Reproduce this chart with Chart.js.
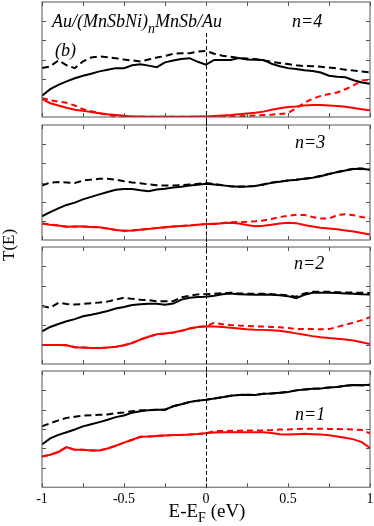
<!DOCTYPE html>
<html lang="en">
<head>
<meta charset="UTF-8">
<title>T(E) Au/(MnSbNi)nMnSb/Au</title>
<script src="https://cdn.jsdelivr.net/npm/chart.js"></script>
<style>
    body { margin: 0; background: #fff; }
    #wrap { position: relative; width: 374px; height: 526px; font-family: "Liberation Serif", serif; color: #000; }
    canvas { position: absolute; left: 0; }
    .lbl { position: absolute; white-space: nowrap; line-height: 18px; font-size: 18px; font-style: italic; }
    .lbl sub { font-size: 14px; vertical-align: -6px; line-height: 0; }
    #ytitle { position: absolute; left: 9px; top: 245px; font-size: 17px; transform: translate(-50%, -50%) rotate(-90deg); white-space: nowrap; }
    #xtitle { position: absolute; left: 207px; top: 501px; font-size: 19px; line-height: 19px; transform: translateX(-50%); white-space: nowrap; }
    #xtitle sub { font-size: 14px; vertical-align: -5px; line-height: 0; }
</style>
</head>
<body>
<div id="wrap">
    <canvas id="p1" width="374" height="121" style="top:0px"></canvas>
    <canvas id="p2" width="374" height="122" style="top:121px"></canvas>
    <canvas id="p3" width="374" height="124" style="top:243px"></canvas>
    <canvas id="p4" width="374" height="159" style="top:367px"></canvas>

    <div class="lbl" style="left:52px; top:12px;">Au/(MnSbNi)<sub>n</sub>MnSb/Au</div>
    <div class="lbl" style="left:55px; top:41px;">(b)</div>
    <div class="lbl" style="left:292px; top:12px;">n=4</div>
    <div class="lbl" style="left:295px; top:133px;">n=3</div>
    <div class="lbl" style="left:294px; top:254px;">n=2</div>
    <div class="lbl" style="left:295px; top:405px;">n=1</div>
    <div id="ytitle">T(E)</div>
    <div id="xtitle">E-E<sub>F</sub> (eV)</div>
</div>

<script>
// energy grid (eV)
const energy = [-1, -0.95, -0.9, -0.85, -0.8, -0.75, -0.7, -0.65, -0.6, -0.55, -0.5,
    -0.45, -0.4, -0.35, -0.3, -0.25, -0.2, -0.15, -0.1, -0.05, 0,
    0.05, 0.1, 0.15, 0.2, 0.25, 0.3, 0.35, 0.4, 0.45, 0.5,
    0.55, 0.6, 0.65, 0.7, 0.75, 0.8, 0.85, 0.9, 0.95, 1];
const xTicks = [-1, -0.75, -0.5, -0.25, 0, 0.25, 0.5, 0.75, 1];
const yTicks = [1, 2, 3, 4, 5];

// n=4
const n4BlackSolid = [1.11, 1.45, 1.68, 1.86, 2.02, 2.15, 2.26, 2.38, 2.47, 2.55, 2.55,
    2.7, 2.75, 2.68, 2.6, 2.85, 2.95, 3.03, 3.07, 2.88, 2.73,
    2.98, 2.98, 2.98, 3.08, 3.0, 2.99, 2.98, 2.78, 2.65, 2.55,
    2.5, 2.44, 2.4, 2.32, 2.15, 2.1, 2.07, 1.92, 1.8, 1.74];
const n4BlackDashed = [2.55, 2.64, 2.95, 2.7, 2.55, 2.9, 3.1, 3.16, 3.12, 3.07, 3.0,
    2.95, 2.9, 3.0, 3.1, 3.18, 3.3, 3.32, 3.33, 3.42, 3.45,
    3.3, 3.2, 3.14, 3.08, 3.05, 3.02, 2.95, 2.88, 2.82, 2.76,
    2.7, 2.66, 2.65, 2.62, 2.58, 2.53, 2.47, 2.42, 2.38, 2.33];
const n4RedSolid = [0.94, 0.72, 0.6, 0.48, 0.38, 0.32, 0.26, 0.2, 0.14, 0.1, 0.06,
    0.03, 0.02, 0.01, 0.01, 0.01, 0.01, 0.01, 0.01, 0.02, 0.03,
    0.05, 0.08, 0.1, 0.14, 0.18, 0.22, 0.28, 0.38, 0.46, 0.52,
    0.55, 0.6, 0.62, 0.62, 0.6, 0.58, 0.53, 0.47, 0.41, 0.35];
const n4RedDashed = [0.99, 0.88, 0.8, 0.74, 0.6, 0.4, 0.3, 0.2, 0.1, 0.04, 0.02,
    0.01, 0.01, 0.01, 0.01, 0.01, 0.01, 0.01, 0.01, 0.01, 0.01,
    0.02, 0.02, 0.03, 0.04, 0.06, 0.08, 0.1, 0.12, 0.16, 0.2,
    0.45, 0.75, 0.95, 1.1, 1.2, 1.28, 1.45, 1.65, 1.9, 1.94];

// n=3
const n3BlackSolid = [1.24, 1.45, 1.65, 1.83, 1.95, 2.12, 2.25, 2.38, 2.5, 2.62, 2.66,
    2.66, 2.6, 2.55, 2.64, 2.68, 2.74, 2.78, 2.84, 2.88, 2.93,
    2.9, 2.85, 2.8, 2.78, 2.79, 2.82, 2.9, 2.98, 3.04, 3.1,
    3.14, 3.2, 3.25, 3.33, 3.44, 3.54, 3.63, 3.7, 3.72, 3.66];
const n3BlackDashed = [2.84, 3.0, 3.02, 3.0, 2.97, 3.1, 3.15, 3.19, 3.2, 3.15, 3.06,
    3.0, 2.96, 2.9, 2.86, 2.84, 2.84, 2.86, 2.9, 2.93, 2.97,
    2.92, 2.86, 2.8, 2.79, 2.8, 2.82, 2.9, 3.0, 3.05, 3.1,
    3.14, 3.2, 3.25, 3.35, 3.45, 3.55, 3.64, 3.72, 3.73, 3.66];
const n3RedSolid = [0.86, 0.8, 0.76, 0.69, 0.7, 0.7, 0.68, 0.66, 0.6, 0.52, 0.48,
    0.5, 0.54, 0.58, 0.62, 0.66, 0.7, 0.73, 0.76, 0.8, 0.83,
    0.84, 0.88, 0.9, 0.86, 0.78, 0.72, 0.74, 0.8, 0.86, 0.9,
    0.88, 0.78, 0.7, 0.64, 0.6, 0.56, 0.5, 0.44, 0.37, 0.29];
const n3RedDashed = [0.86, 0.8, 0.76, 0.69, 0.7, 0.7, 0.68, 0.66, 0.6, 0.52, 0.48,
    0.5, 0.54, 0.58, 0.62, 0.66, 0.7, 0.73, 0.76, 0.8, 0.83,
    0.85, 0.89, 0.92, 0.94, 0.95, 0.98, 1.02, 1.1, 1.2, 1.26,
    1.32, 1.3, 1.2, 1.12, 1.12, 1.3, 1.34, 1.29, 1.2, 1.12];

// n=2
const n2BlackSolid = [1.67, 1.9, 2.05, 2.19, 2.3, 2.45, 2.53, 2.62, 2.72, 2.85, 2.92,
    3.02, 3.06, 3.09, 3.09, 3.04, 3.1, 3.3, 3.4, 3.43, 3.45,
    3.5, 3.58, 3.62, 3.58, 3.56, 3.55, 3.56, 3.55, 3.52, 3.48,
    3.38, 3.55, 3.65, 3.66, 3.66, 3.64, 3.62, 3.6, 3.58, 3.57];
const n2BlackDashed = [2.97, 2.88, 3.14, 3.08, 3.05, 3.08, 3.12, 3.15, 3.2, 3.3, 3.4,
    3.34, 3.3, 3.27, 3.22, 3.22, 3.22, 3.42, 3.5, 3.57, 3.58,
    3.6, 3.63, 3.66, 3.62, 3.6, 3.6, 3.6, 3.58, 3.55, 3.52,
    3.45, 3.62, 3.7, 3.71, 3.7, 3.68, 3.67, 3.66, 3.66, 3.64];
const n2RedSolid = [0.98, 0.98, 0.98, 0.96, 0.86, 0.84, 0.82, 0.82, 0.84, 0.88, 0.96,
    1.08, 1.25, 1.4, 1.52, 1.56, 1.62, 1.7, 1.82, 1.9, 1.93,
    1.92, 1.9, 1.86, 1.82, 1.78, 1.76, 1.75, 1.73, 1.7, 1.64,
    1.57, 1.5, 1.43, 1.37, 1.33, 1.3, 1.26, 1.2, 1.12, 1.03];
const n2RedDashed = [0.98, 0.98, 0.98, 0.96, 0.86, 0.84, 0.82, 0.82, 0.84, 0.88, 0.96,
    1.08, 1.25, 1.4, 1.52, 1.56, 1.62, 1.7, 1.82, 1.9, 1.93,
    2.12, 2.04, 2.0, 1.97, 1.95, 1.93, 1.92, 1.9, 1.88, 1.85,
    1.8, 1.79, 1.79, 1.78, 1.79, 1.9, 2.02, 2.12, 2.25, 2.4];

// n=1
const n1BlackSolid = [2.21, 2.52, 2.7, 2.84, 2.98, 3.14, 3.25, 3.36, 3.48, 3.62, 3.7,
    3.85, 3.92, 3.98, 4.0, 4.0, 4.18, 4.28, 4.4, 4.47, 4.52,
    4.58, 4.65, 4.72, 4.76, 4.78, 4.76, 4.82, 4.84, 4.88, 4.92,
    5.0, 5.04, 5.08, 5.1, 5.15, 5.18, 5.24, 5.28, 5.26, 5.29];
const n1BlackDashed = [3.14, 3.3, 3.45, 3.58, 3.64, 3.7, 3.72, 3.74, 3.76, 3.82, 3.86,
    3.92, 3.97, 3.98, 4.0, 4.0, 4.18, 4.28, 4.4, 4.47, 4.52,
    4.58, 4.65, 4.72, 4.76, 4.78, 4.76, 4.82, 4.84, 4.88, 4.92,
    5.0, 5.04, 5.08, 5.1, 5.15, 5.18, 5.24, 5.28, 5.26, 5.29];
const n1RedSolid = [1.59, 1.68, 1.82, 2.07, 1.93, 1.93, 1.9, 1.9, 2.0, 2.14, 2.3,
    2.45, 2.6, 2.62, 2.65, 2.67, 2.69, 2.7, 2.72, 2.75, 2.79,
    2.82, 2.84, 2.84, 2.84, 2.84, 2.84, 2.84, 2.8, 2.74, 2.72,
    2.74, 2.76, 2.74, 2.72, 2.68, 2.62, 2.55, 2.47, 2.33, 2.03];
const n1RedDashed = [1.59, 1.68, 1.82, 2.07, 1.93, 1.93, 1.9, 1.9, 2.0, 2.14, 2.3,
    2.45, 2.6, 2.62, 2.65, 2.67, 2.69, 2.7, 2.72, 2.75, 2.79,
    2.9, 2.9, 2.91, 2.92, 2.93, 2.92, 2.93, 2.95, 2.98, 2.98,
    3.0, 3.02, 3.02, 3.02, 3.01, 3.0, 2.99, 2.98, 2.95, 2.78];

function pts(arr) {
    return energy.map((e, i) => ({ x: e, y: arr[i] }));
}

// frame, inward ticks and the dashed E=E_F line
const framePlugin = {
    id: 'frame',
    afterDatasetsDraw(chart, args, opts) {
        const ctx = chart.ctx, a = chart.chartArea;
        const xs = chart.scales.x, ys = chart.scales.y;
        ctx.save();
        ctx.strokeStyle = '#555';
        ctx.lineWidth = 1;
        ctx.strokeRect(a.left, a.top, a.right - a.left, a.bottom - a.top);
        ctx.beginPath();
        xTicks.forEach(v => {
            const px = Math.round(xs.getPixelForValue(v)) + 0.5;
            ctx.moveTo(px, a.top); ctx.lineTo(px, a.top + 4);
            ctx.moveTo(px, a.bottom); ctx.lineTo(px, a.bottom - 4);
        });
        yTicks.forEach(v => {
            const py = Math.round(ys.getPixelForValue(v)) + 0.5;
            ctx.moveTo(a.left, py); ctx.lineTo(a.left + 4, py);
            ctx.moveTo(a.right, py); ctx.lineTo(a.right - 4, py);
        });
        ctx.stroke();

        const x0 = Math.round(xs.getPixelForValue(0)) + 0.5;
        ctx.strokeStyle = '#000';
        ctx.setLineDash([4, 2.5]);
        ctx.beginPath();
        ctx.moveTo(x0, opts.top === 'area' ? a.top + 31 : 0);
        ctx.lineTo(x0, opts.bottom === 'area' ? a.bottom : chart.height);
        ctx.stroke();
        ctx.restore();
    }
};

function makePanel(id, blackSolid, blackDashed, redSolid, redDashed, pad, isBottom, vline) {
    const line = (label, arr, color, dash) => ({
        label: label,
        data: pts(arr),
        borderColor: color,
        borderWidth: 2,
        borderDash: dash,
        pointRadius: 0,
        tension: 0,
        fill: false
    });
    return new Chart(document.getElementById(id), {
        type: 'line',
        data: {
            datasets: [
                line('red dashed', redDashed, '#ff0000', [6, 4]),
                line('red solid', redSolid, '#ff0000', []),
                line('black dashed', blackDashed, '#000000', [7, 4]),
                line('black solid', blackSolid, '#000000', [])
            ]
        },
        options: {
            responsive: false,
            animation: false,
            devicePixelRatio: 1,
            layout: { padding: pad },
            plugins: {
                legend: { display: false },
                tooltip: { enabled: false },
                frame: vline
            },
            scales: {
                x: {
                    type: 'linear', min: -1, max: 1,
                    display: isBottom,
                    grid: { display: false, drawTicks: false },
                    border: { display: false },
                    ticks: {
                        stepSize: 0.5, maxRotation: 0, padding: 0, color: '#000',
                        font: { family: 'Liberation Serif', size: 14, lineHeight: 1.77 },
                        callback: v => String(v)
                    }
                },
                y: { min: 0, max: 6, display: false }
            }
        },
        plugins: [framePlugin]
    });
}

makePanel('p1', n4BlackSolid, n4BlackDashed, n4RedSolid, n4RedDashed,
    { left: 42, right: 4, top: 2, bottom: 4 }, false, { top: 'area' });
makePanel('p2', n3BlackSolid, n3BlackDashed, n3RedSolid, n3RedDashed,
    { left: 42, right: 4, top: 4, bottom: 3 }, false, {});
makePanel('p3', n2BlackSolid, n2BlackDashed, n2RedSolid, n2RedDashed,
    { left: 42, right: 4, top: 4, bottom: 3 }, false, {});
makePanel('p4', n1BlackSolid, n1BlackDashed, n1RedSolid, n1RedDashed,
    { left: 42, right: 4, top: 4, bottom: 14 }, true, { bottom: 'area' });
</script>
</body>
</html>
